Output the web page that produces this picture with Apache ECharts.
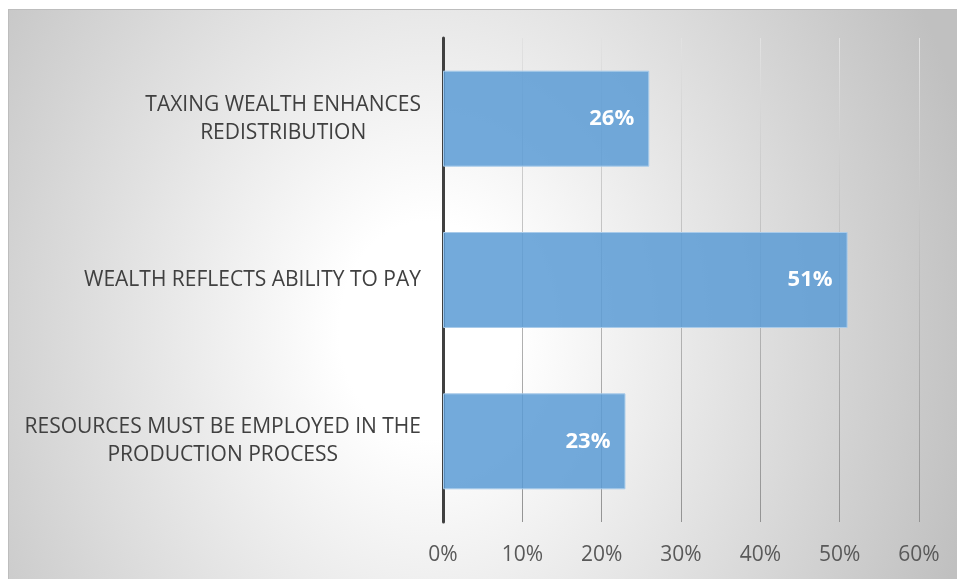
<!DOCTYPE html>
<html>
<head>
<meta charset="utf-8">
<script src="https://cdn.jsdelivr.net/npm/echarts@6/dist/echarts.min.js"></script>
<style>
  html, body { margin: 0; padding: 0; background: #ffffff; }
  #panel {
    position: absolute; left: 8px; top: 9px; width: 949px; height: 570px;
    border-left: 1px solid #bdbdbd; border-top: 1px solid #bdbdbd;
    background: radial-gradient(ellipse 560px 680px at 420px 320px, #ffffff 0%, #ffffff 16%, #c0c0c0 100%);
  }
  #chart { position: absolute; left: 0; top: 0; width: 957px; height: 579px; }
</style>
</head>
<body>
<div id="panel"></div>
<div id="chart"></div>
<script>
// Survey reasons, listed bottom-to-top as the category axis draws them
const categories = [
  'RESOURCES MUST BE EMPLOYED IN THE\nPRODUCTION PROCESS',
  'WEALTH REFLECTS ABILITY TO PAY',
  'TAXING WEALTH ENHANCES\nREDISTRIBUTION'
];
const shares = [23, 51, 26];           // percent of respondents
const tickValues = [0, 10, 20, 30, 40, 50, 60];

const chart = echarts.init(document.getElementById('chart'), null, { renderer: 'canvas' });

// Each label line is centred inside its own block; the block sits right-aligned
const wrapLines = v => v.split('\n').map(l => '{c|' + l + '}').join('\n');

chart.setOption({
  backgroundColor: 'transparent',
  animation: false,
  grid: { left: 443, right: 38, top: 38, bottom: 57, containLabel: false },
  xAxis: {
    type: 'value',
    min: tickValues[0],
    max: tickValues[tickValues.length - 1],
    interval: 10,
    axisLine: { show: false },
    axisTick: { show: false },
    axisLabel: {
      formatter: v => v + '%',
      color: '#595959',
      fontFamily: 'Open Sans',
      fontSize: 21,
      margin: 23
    },
    splitLine: {
      show: true,
      lineStyle: {
        width: 1,
        color: {
          type: 'linear', x: 0, y: 0, x2: 0, y2: 1,
          colorStops: [
            { offset: 0, color: '#e2e2e2' },
            { offset: 1, color: '#939393' }
          ]
        }
      }
    }
  },
  yAxis: {
    type: 'category',
    data: categories,
    axisLine: { show: true, lineStyle: { color: '#404040', width: 3 } },
    axisTick: { show: false },
    axisLabel: {
      formatter: wrapLines,
      align: 'right',
      margin: 22,
      color: '#404040',
      fontFamily: 'Open Sans',
      fontSize: 21,
      lineHeight: 28,
      rich: {
        c: { align: 'center', color: '#404040', fontFamily: 'Open Sans', fontSize: 21, lineHeight: 28 }
      }
    },
    splitLine: { show: false }
  },
  series: [{
    type: 'bar',
    data: shares,
    barCategoryGap: '40.5%',
    itemStyle: {
      color: 'rgba(91,155,213,0.85)',
      borderColor: '#a9cbea',
      borderWidth: 1
    },
    label: {
      show: true,
      position: 'insideRight',
      distance: 15,
      formatter: p => p.value + '%',
      color: '#ffffff',
      fontFamily: 'Open Sans',
      fontWeight: 'bold',
      fontSize: 22
    }
  }]
});
</script>
</body>
</html>
